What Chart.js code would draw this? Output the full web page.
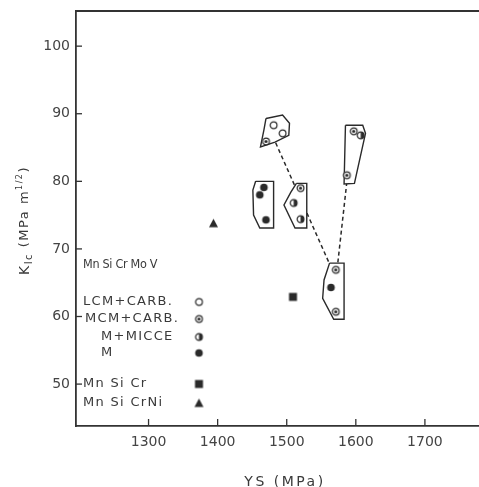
<!DOCTYPE html>
<html><head><meta charset="utf-8">
<script src="https://cdn.jsdelivr.net/npm/chart.js@4/dist/chart.umd.min.js"></script>
<style>
html,body{margin:0;padding:0;overflow:hidden;background:#fff;width:479px;height:487px}
#wrap{position:relative;width:500px;height:500px}
</style></head>
<body><div id="wrap"><canvas id="c" width="500" height="500"></canvas></div>
<script>
// ---- data ----
const xTicks = [1300, 1400, 1500, 1600, 1700];
const yTicks = [50, 60, 70, 80, 90, 100];
const lcmCarb  = [{x:1481,y:88.3},{x:1494,y:87.1}];
const mcmCarb  = [{x:1470,y:85.9},{x:1597,y:87.4},{x:1587,y:80.9},{x:1520,y:79.0},{x:1571,y:66.9},{x:1571,y:60.7}];
const mMicce   = [{x:1607,y:86.8},{x:1510,y:76.8},{x:1520,y:74.4}];
const mOnly    = [{x:1467,y:79.1},{x:1461,y:78.0},{x:1470,y:74.3},{x:1564,y:64.3}];
const mnSiCr   = [{x:1509,y:62.9}];
const mnSiCrNi = [{x:1394,y:73.8}];
const envA = [{x:1470,y:89.3},{x:1494,y:89.8},{x:1504,y:88.6},{x:1503,y:86.8},{x:1483,y:85.8},{x:1462,y:85.1},{x:1467,y:87.6},{x:1470,y:89.3}];
const envB = [{x:1585,y:88.3},{x:1610,y:88.3},{x:1614,y:87.1},{x:1598,y:79.7},{x:1583,y:79.6},{x:1585,y:88.3}];
const envC = [{x:1455,y:80.0},{x:1481,y:80.0},{x:1481,y:73.1},{x:1461,y:73.1},{x:1452,y:75.0},{x:1451,y:78.7},{x:1455,y:80.0}];
const envD = [{x:1514,y:79.7},{x:1529,y:79.7},{x:1529,y:73.1},{x:1512,y:73.1},{x:1496,y:76.5},{x:1506,y:78.4},{x:1514,y:79.7}];
const envE = [{x:1562,y:67.9},{x:1583,y:67.9},{x:1583,y:59.6},{x:1568,y:59.6},{x:1552,y:62.7},{x:1554,y:65.4},{x:1562,y:67.9}];
const trend1 = [{x:1484,y:85.7},{x:1561,y:68.0}];
const trend2 = [{x:1587,y:79.9},{x:1574,y:68.0}];
const steelGroups = ["Mn Si Cr Mo V", "Mn Si Cr", "Mn Si CrNi"];
const structLabels = ["LCM+CARB.", "MCM+CARB.", "M+MICCE", "M"];
const xTitle = "YS (MPa)";

// ---- marker images ----
const INK = '#2a2a2a';
function marker(kind){
  const c = document.createElement('canvas'); c.width = 11; c.height = 11;
  const g = c.getContext('2d'); g.strokeStyle = INK; g.fillStyle = INK; g.lineWidth = 1.2;
  const cx = 5.5, cy = 5.5, r = 3.4;
  if (kind === 'square') { g.fillRect(1.5,1.5,8,8); return c; }
  if (kind === 'tri') { g.beginPath(); g.moveTo(5.5,1); g.lineTo(10,9.5); g.lineTo(1,9.5); g.closePath(); g.fill(); return c; }
  if (kind === 'full') { g.beginPath(); g.arc(cx,cy,3.8,0,Math.PI*2); g.fill(); return c; }
  g.fillStyle = '#fff'; g.beginPath(); g.arc(cx,cy,r,0,Math.PI*2); g.fill();
  g.fillStyle = INK;
  if (kind === 'dot') { g.beginPath(); g.arc(cx,cy,1.6,0,Math.PI*2); g.fill(); }
  if (kind === 'half') { g.beginPath(); g.arc(cx,cy,r,-Math.PI/2,Math.PI/2); g.closePath(); g.fill(); }
  g.beginPath(); g.arc(cx,cy,r,0,Math.PI*2); g.stroke();
  return c;
}
const mk = {open:marker('open'), dot:marker('dot'), half:marker('half'), full:marker('full'), square:marker('square'), tri:marker('tri')};

function pts(data, img){ return {data, pointStyle: img, pointRadius: 4, showLine:false, borderColor: INK, backgroundColor: INK}; }
function env(data){ return {data, showLine:true, pointRadius:0, borderColor: INK, borderWidth:1.4, fill:'shape', backgroundColor:'#fff', tension:0}; }
function dash(data){ return {data, showLine:true, pointRadius:0, borderColor: INK, borderWidth:1.5, borderDash:[4,3], fill:false}; }

const FONT = '"DejaVu Sans", sans-serif';
const TXT = '#3a3a3a';

const decor = {
  id:'decor',
  afterDraw(chart){
    const {ctx, chartArea:a, scales:{x, y}} = chart;
    ctx.save();
    ctx.strokeStyle = '#333'; ctx.lineWidth = 1.8;
    ctx.beginPath(); ctx.moveTo(a.left, a.top); ctx.lineTo(a.right, a.top); ctx.stroke();
    ctx.lineWidth = 1.3;
    yTicks.forEach(v => { const p = y.getPixelForValue(v); ctx.beginPath(); ctx.moveTo(a.left, p); ctx.lineTo(a.left+6, p); ctx.stroke(); });
    xTicks.forEach(v => { const p = x.getPixelForValue(v); ctx.beginPath(); ctx.moveTo(p, a.bottom); ctx.lineTo(p, a.bottom-7); ctx.stroke(); });

    // in-plot key
    ctx.fillStyle = TXT; ctx.textBaseline = 'middle'; ctx.textAlign = 'left';
    const L = a.left, T = a.top, mx = L + 123;
    ctx.font = '12.5px "DejaVu Sans Condensed", ' + FONT; ctx.letterSpacing = '-0.3px';
    ctx.fillText(steelGroups[0], L+7, T+254);
    ctx.font = '13px ' + FONT; ctx.letterSpacing = '1.3px';
    const rows = [[structLabels[0], 7, 291, mk.open],[structLabels[1], 9, 308, mk.dot],[structLabels[2], 25, 326, mk.half],[structLabels[3], 25, 342, mk.full]];
    rows.forEach(([t, dx, dy, img]) => { ctx.fillText(t, L+dx, T+dy); ctx.drawImage(img, mx-5.5, T+dy-5.5); });
    ctx.fillText(steelGroups[1], L+7, T+373); ctx.drawImage(mk.square, mx-5.5, T+373-5.5);
    ctx.fillText(steelGroups[2], L+7, T+392); ctx.drawImage(mk.tri, mx-5.5, T+392-5.5);

    // x title
    ctx.font = '14px ' + FONT; ctx.letterSpacing = '2.5px'; ctx.textAlign = 'center';
    ctx.fillText(xTitle, (a.left + a.right)/2, 482);

    // y title (rotated)
    ctx.translate(25, (a.top + a.bottom)/2 + 2); ctx.rotate(-Math.PI/2);
    ctx.textAlign = 'left'; ctx.letterSpacing = '1.5px';
    const parts = [['K', 14, 0], ['Ic', 10, 4], [' (MPa m', 13, 0], ['1/2', 8, -5], [')', 13, 0]];
    let w = 0;
    parts.forEach(([t, s]) => { ctx.font = s + 'px ' + FONT; w += ctx.measureText(t).width; });
    let cx = -w/2;
    parts.forEach(([t, s, dy]) => { ctx.font = s + 'px ' + FONT; ctx.fillText(t, cx, dy); cx += ctx.measureText(t).width; });
    ctx.restore();
  }
};

new Chart(document.getElementById('c'), {
  type: 'scatter',
  data: { datasets: [
    pts(lcmCarb, mk.open), pts(mcmCarb, mk.dot), pts(mMicce, mk.half), pts(mOnly, mk.full),
    pts(mnSiCr, mk.square), pts(mnSiCrNi, mk.tri),
    env(envA), env(envB), env(envC), env(envD), env(envE),
    dash(trend1), dash(trend2)
  ]},
  options: {
    responsive:false, animation:false, devicePixelRatio:1,
    layout:{padding:{top:11, right:6, bottom:0, left:0}},
    plugins:{legend:{display:false}, tooltip:{enabled:false}},
    scales:{
      x:{type:'linear', min:1195, max:1800,
        afterBuildTicks(s){ s.ticks = xTicks.map(v => ({value:v})); },
        afterFit(s){ s.height = 74; s.paddingLeft = 0; s.paddingRight = 0; },
        grid:{display:true, drawOnChartArea:false, drawTicks:false},
        border:{display:true, color:'#333', width:1.8},
        ticks:{padding:8, color:'#444', font:{family:'"DejaVu Sans"', size:14}, maxRotation:0, autoSkip:false, callback:v => String(v)}},
      y:{type:'linear', min:43.8, max:105.2,
        afterBuildTicks(s){ s.ticks = yTicks.map(v => ({value:v})); },
        afterFit(s){ s.width = 76; s.paddingTop = 0; s.paddingBottom = 0; },
        grid:{display:true, drawOnChartArea:false, drawTicks:false},
        border:{display:true, color:'#333', width:1.8},
        ticks:{padding:6, color:'#444', font:{family:'"DejaVu Sans"', size:14}, autoSkip:false, callback:v => String(v)}}
    }
  },
  plugins:[decor]
});
</script>
</body></html>
